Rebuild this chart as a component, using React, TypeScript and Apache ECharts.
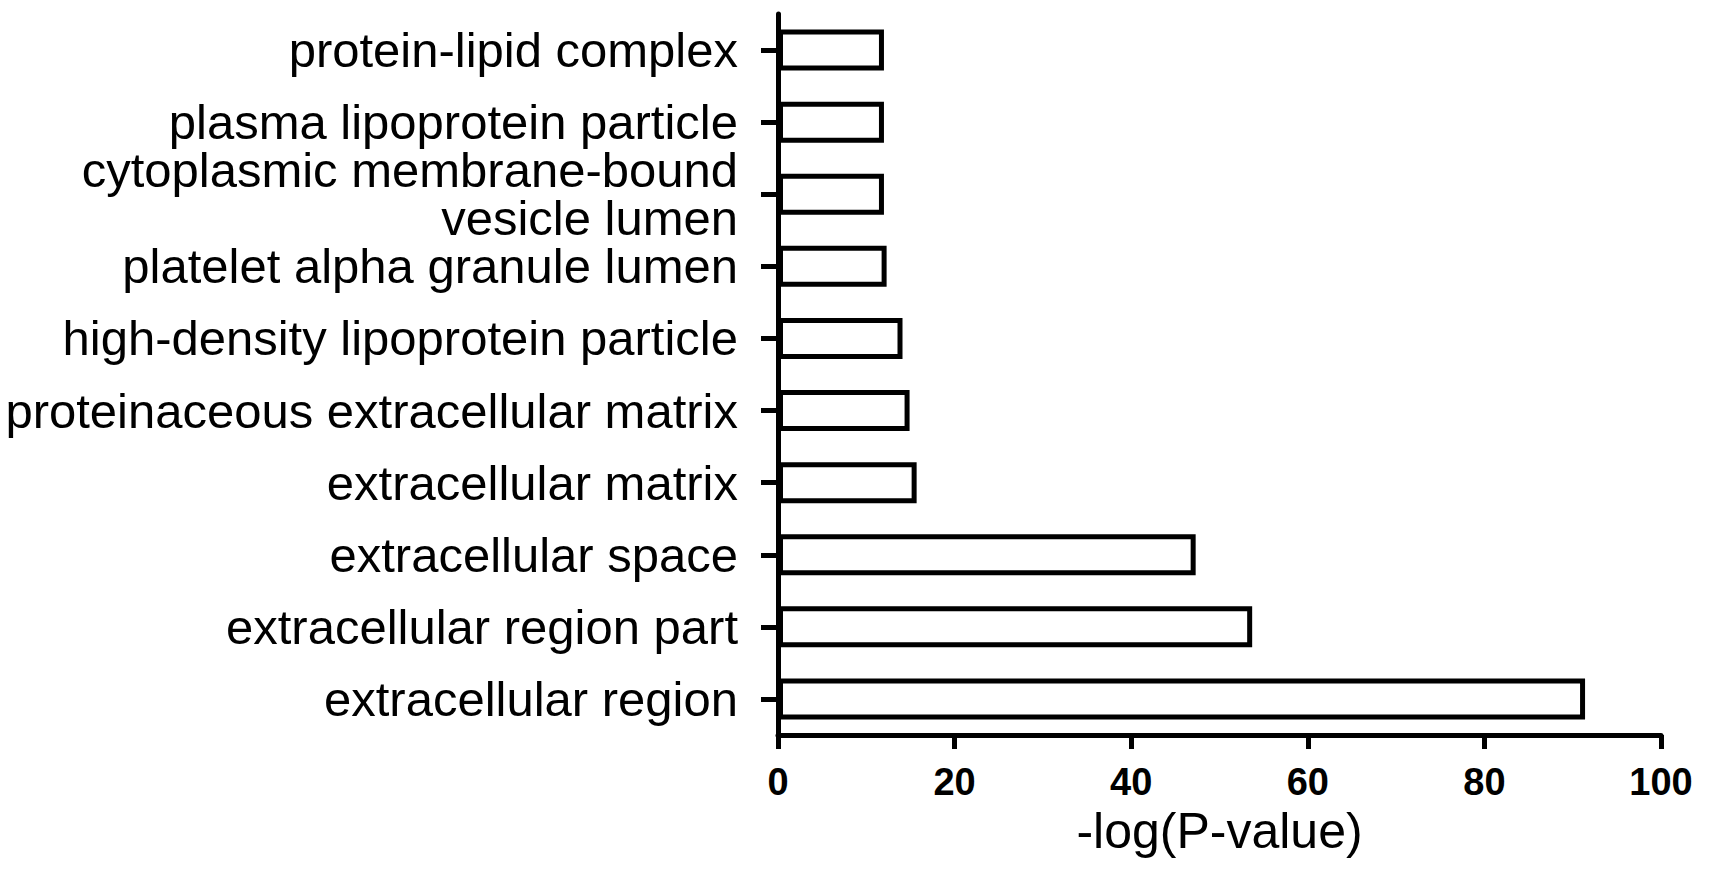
import React, { useEffect, useRef } from "react";
import * as echarts from "echarts";

const categories: string[] = [
  "protein-lipid complex",
  "plasma lipoprotein particle",
  "cytoplasmic membrane-bound\nvesicle lumen",
  "platelet alpha granule lumen",
  "high-density lipoprotein particle",
  "proteinaceous extracellular matrix",
  "extracellular matrix",
  "extracellular space",
  "extracellular region part",
  "extracellular region",
];

const values: number[] = [12.0, 12.0, 12.0, 12.3, 14.1, 14.9, 15.7, 47.3, 53.7, 91.4];

const xTicks = { min: 0, max: 100, interval: 20 };
const xAxisTitle = "-log(P-value)";

const FONT = "'Liberation Sans', Arial, Helvetica, sans-serif";

export default function App() {
  const ref = useRef<HTMLDivElement>(null);

  useEffect(() => {
    if (!ref.current) return;
    const chart = echarts.init(ref.current, undefined, { renderer: "svg" });
    chart.setOption({
      animation: false,
      backgroundColor: "#ffffff",
      grid: {
        left: 778,
        right: 49,
        top: 14,
        bottom: 151,
        containLabel: false,
        outerBoundsMode: "none",
      },
      xAxis: {
        type: "value",
        min: xTicks.min,
        max: xTicks.max,
        interval: xTicks.interval,
        name: xAxisTitle,
        nameLocation: "middle",
        nameGap: 68,
        nameTextStyle: { fontFamily: FONT, fontSize: 50, color: "#000" },
        axisLine: { show: true, lineStyle: { color: "#000", width: 5 } },
        axisTick: { show: true, length: 14, lineStyle: { color: "#000", width: 5 } },
        axisLabel: {
          margin: 28,
          fontFamily: FONT,
          fontSize: 38,
          fontWeight: "bold",
          color: "#000",
        },
        splitLine: { show: false },
      },
      yAxis: {
        type: "category",
        data: categories,
        inverse: true,
        axisLine: { show: true, lineStyle: { color: "#000", width: 5 } },
        axisTick: {
          show: true,
          alignWithLabel: true,
          length: 17,
          lineStyle: { color: "#000", width: 5 },
        },
        axisLabel: {
          margin: 40,
          fontFamily: FONT,
          fontSize: 49,
          lineHeight: 48,
          color: "#000",
          align: "right",
        },
        splitLine: { show: false },
      },
      series: [
        {
          type: "bar",
          data: values,
          barWidth: 41,
          itemStyle: { color: "#ffffff", borderColor: "#000", borderWidth: 5 },
        },
      ],
    });
    return () => chart.dispose();
  }, []);

  return (
    <div
      ref={ref}
      style={{ position: "fixed", left: 0, top: 0, width: 1710, height: 886, background: "#fff" }}
    />
  );
}
